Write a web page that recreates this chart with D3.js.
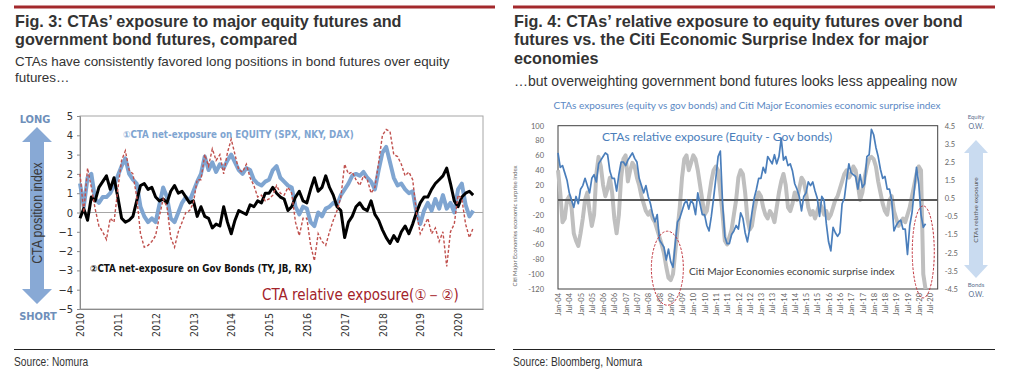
<!DOCTYPE html>
<html>
<head>
<meta charset="utf-8">
<script src="https://cdn.jsdelivr.net/npm/d3@7"></script>
<style>
  body { margin: 0; background: #fff; }
  svg { display: block; }
</style>
</head>
<body>
<svg id="chart" width="1011" height="378"></svg>
<script>
// ---------- Fig. 3 data (step 0.1 year from 2010.0) ----------
const leftStart = 2010, leftStep = 0.1;
const leftYears = [2010, 2011, 2012, 2013, 2014, 2015, 2016, 2017, 2018, 2019, 2020];
const leftYTicks = [5, 4, 3, 2, 1, 0, -1, -2, -3, -4, -5];
// (1) CTA net exposure on equity
const equityExposure = [
  1.5, 0.3, 1.8, 2.0, 0.7, 0.5, 0.8, 0.8, 1.0, 1.4,
  1.9, 2.4, 2.8, 2.0, 1.7, 1.5, 0.3, -0.2, -0.5, -0.3,
  -0.5, 0.4, 1.3, 0.8, -0.3, -0.5, 0.0, 0.5, 0.8, 0.6,
  1.1, 1.6, 2.0, 2.9, 2.2, 2.6, 2.1, 2.5, 2.3, 2.7,
  3.0, 2.6, 2.2, 2.0, 2.3, 2.2, 1.7, 1.5, 1.4, 1.6,
  1.7, 2.2, 2.4, 1.8, 1.6, 1.4, 1.3, 0.3, -0.1, 0.3,
  0.2, -0.5, -0.7, 0.0, -0.2, 0.2, 0.3, 0.5, 0.4, 0.9,
  1.2, 1.5, 1.9, 2.0, 1.9, 2.1, 1.8, 1.6, 1.2, 2.2,
  3.1, 3.4, 2.6, 1.8, 1.4, 1.5, 1.2, 1.0, 1.1, 0.0,
  -0.6, 0.1, 0.5, 0.1, 0.7, 0.2, 0.9, 0.2, 0.5, 0.0,
  1.2, 1.5, 0.4, -0.2, 0.1
];
// (2) CTA net exposure on government bonds
const bondExposure = [
  -0.3, 0.2, -0.4, 0.8, 0.6, 1.3, 1.6, 1.9, 1.2, 1.8,
  0.8, -0.3, -0.5, -0.4, -0.2, 0.6, 1.4, 1.5, 1.2, 1.3,
  0.8, 0.6, 0.7, 0.5, 1.1, 1.4, 1.0, 1.1, 0.8, 0.5,
  0.6, -0.2, 0.3, -0.2, -0.3, -0.8, -0.6, -0.7, 0.3, -0.5,
  -1.1, -0.4, 0.1, 0.0, -0.1, 0.4, 0.3, 0.6, 0.5, 1.0,
  1.0, 1.3, 1.0, 0.8, 0.7, 0.1, 0.3, 0.8, 1.1, 0.6,
  0.5, 1.2, 1.8, 1.1, 1.3, 1.9, 1.3, 0.9, 0.3, 0.1,
  -1.3, -0.5, -0.2, 0.3, 0.5, 0.2, 0.1, 0.6, -0.1, -0.4,
  -0.9, -1.3, -1.6, -1.2, -1.5, -1.0, -0.7, -1.1, -0.6, 0.0,
  0.5, 0.8, 0.8, 1.2, 1.5, 1.7, 1.9, 2.3, 1.5, 0.6,
  0.3, 0.8, 1.0, 1.1, 0.9
];
// CTA relative exposure (1) - (2)
const relativeExposure = [
  2.0, 0.0, 2.3, 1.3, 0.2, -0.7, -1.0, -1.4, -0.3, -0.5,
  1.2, 2.7, 3.2, 2.2, 2.0, 0.8, -1.1, -1.8, -1.7, -1.5,
  -1.2, -0.2, 0.7, 0.3, -1.3, -1.8, -1.0, -0.5, 0.0, 0.1,
  0.5, 1.7, 1.7, 3.0, 2.4, 3.3, 2.7, 3.0, 2.0, 3.1,
  3.8, 3.0, 2.2, 2.1, 2.5, 1.8, 1.4, 0.8, 0.9, 0.6,
  0.7, 0.9, 1.4, 1.0, 0.9, 1.3, 1.0, -0.5, -1.2, -0.3,
  -0.3, -1.7, -2.5, -1.1, -1.5, -1.7, -1.0, -0.4, 0.1, 0.8,
  2.5, 2.0, 2.1, 1.7, 1.4, 1.9, 1.7, 1.0, 1.3, 2.6,
  4.0, 4.3, 4.2, 3.0, 2.9, 2.5, 1.9, 2.1, 1.7, 0.0,
  -1.1, -0.7, -0.3, -1.1, -0.8, -1.5, -1.0, -2.8, -1.0, -0.6,
  0.9, 0.7, -0.6, -1.3, -0.8
];

// ---------- Fig. 4 data (step 0.1 year from 2004.0) ----------
const rightStart = 2004, rightStep = 0.1;
const rightXLabels = [
  "Jan-04", "Jul-04", "Jan-05", "Jul-05", "Jan-06", "Jul-06", "Jan-07", "Jul-07",
  "Jan-08", "Jul-08", "Jan-09", "Jul-09", "Jan-10", "Jul-10", "Jan-11", "Jul-11",
  "Jan-12", "Jul-12", "Jan-13", "Jul-13", "Jan-14", "Jul-14", "Jan-15", "Jul-15",
  "Jan-16", "Jul-16", "Jan-17", "Jul-17", "Jan-18", "Jul-18", "Jan-19", "Jul-19",
  "Jan-20", "Jul-20"
];
const rightLeftTicks = [100, 80, 60, 40, 20, 0, -20, -40, -60, -80, -100, -120];
const rightRightTicks = [4.5, 3.5, 2.5, 1.5, 0.5, -0.5, -1.5, -2.5, -3.5, -4.5];
// Citi Major Economies economic surprise index (left axis)
const citiSurprise = [
  40, 10, -30, -25, 0, 5, -10, -45, -55, -62,
  -45, -25, 0, 10, -15, -35, -20, 35, 58, 45,
  20, 5, 15, 30, 10, -25, -45, -20, 30, 55,
  60, 25, 40, 50, 45, 30, 20, 5, -5, -15,
  -20, -15, -25, -30, -40, -50, -60, -72, -90, -105,
  -108, -100, -70, -40, -10, 30, 55, 60, 40, 50,
  60, 55, 40, 20, 0, -20, -15, 5, 25, 40,
  45, 40, 10, -20, -55, -60, -50, -40, -20, 0,
  30, 40, 35, 10, -25, -40, -35, -15, 0, 10,
  5, -10, -20, -25, -15, -20, -30, -10, 10, 25,
  35, 20, -10, -15, -5, 10, 0, 15, 30, 25,
  10, -10, -20, -15, -25, -15, -5, -10, -20, -15,
  -25, -20, -10, 0, 5, 15, 25, 35, 40, 30,
  35, 45, 40, 20, 0, 10, 30, 45, 55, 58,
  55, 45, 25, 10, -5, -15, -20, 0, 5, -15,
  -25, -35, -30, -25, -30, -20, -10, 5, 20, 35,
  45, 40, -100, -120
];
// CTAs relative exposure, equity - gov bonds (right axis)
const ctaRelative = [
  3.0, 2.2, 2.3, 1.9, 1.5, 0.8, 0.4, 0.0, 0.6, 0.2,
  1.0, 1.2, 1.6, 1.2, 0.8, 1.6, 1.8, 1.4, 2.4, 2.6,
  2.8, 3.0, 2.9, 2.0, 1.6, 1.6, 0.9, 1.8, 2.5, 2.5,
  2.3, 2.6, 2.8, 3.0, 2.7, 2.5, 1.6, 1.2, 0.8, 1.2,
  0.6, 0.2, -0.4, -0.8, -0.4, -1.8, -2.0, -2.2, -2.9, -2.3,
  -3.0, -3.3, -2.0, -0.8, -0.6, -0.2, 0.2, 0.4, -0.1, 0.4,
  0.2, -0.4, 0.8, 0.2, -0.4, -0.4, -1.0, -1.3, -0.5, 0.5,
  1.6, 2.8, 3.1, 0.2, -1.6, -2.0, -2.0, -1.5, -1.3, -1.0,
  -1.2, -0.3, -0.6, -1.4, -1.9, -1.2, -0.3, 0.5, 1.0, 1.6,
  1.6, 2.2, 1.9, 2.8, 2.6, 2.4, 2.9, 2.4, 2.8, 3.8,
  2.6, 2.8, 2.3, 2.4, 2.0, 1.3, 1.0, 0.6, -0.2, 0.6,
  0.8, 1.4, 1.2, 1.4, 0.9, 0.5, -0.5, 0.6, 0.4, -0.9,
  -1.9, -2.4, -1.1, -1.4, -1.6, -1.4, 0.2, 0.5, 1.5, 2.4,
  1.9, 1.8, 1.7, 1.0, 1.8, 1.1, 1.3, 2.8, 2.9, 4.3,
  4.0, 3.3, 2.8, 2.1, 1.6, 1.7, 1.0, 1.0, 0.4, -1.3,
  -1.0, -0.8, -0.7, -1.2, -1.2, -2.6, -1.0, -0.3, 0.9, 2.2,
  1.3, -0.4, -1.1, -0.9
];
// dashed ellipses (year, surprise index value, radii in px)
const highlights = [
  { year: 2008.85, value: -92, rx: 16, ry: 37 },
  { year: 2020.2, value: -70, rx: 11, ry: 46 }
];

const svg = d3.select("#chart");
const darkText = "#333";

// ---------- headers ----------
function header(x0, x1, titleLines, subLines, subY, subSize) {
  svg.append("line")
    .attr("x1", x0).attr("x2", x1).attr("y1", 7).attr("y2", 7)
    .attr("stroke", "#a3292c").attr("stroke-width", 3);
  titleLines.forEach((t, i) => {
    svg.append("text").attr("x", x0 + 1).attr("y", 27 + i * 18.3)
      .attr("font-family", "Liberation Sans, Arial, sans-serif")
      .attr("font-weight", "bold").attr("font-size", 16.2)
      .attr("fill", darkText).text(t);
  });
  subLines.forEach((t, i) => {
    svg.append("text").attr("x", x0 + 1).attr("y", subY + i * 16)
      .attr("font-family", "Liberation Sans, Arial, sans-serif")
      .attr("font-size", subSize).attr("fill", darkText).text(t);
  });
  svg.append("line")
    .attr("x1", x0).attr("x2", x1).attr("y1", 349.5).attr("y2", 349.5)
    .attr("stroke", "#222").attr("stroke-width", 1);
}
header(14, 495,
  ["Fig. 3: CTAs\u2019 exposure to major equity futures and", "government bond futures, compared"],
  ["CTAs have consistently favored long positions in bond futures over equity", "futures\u2026"], 66, 13.4);
header(513, 995,
  ["Fig. 4: CTAs\u2019 relative exposure to equity futures over bond",
   "futures vs. the Citi Economic Surprise Index for major", "economies"],
  ["\u2026but overweighting government bond futures looks less appealing now"], 86, 14);

// narrow source lines (horizontal squeeze stands in for Arial Narrow)
svg.append("text").attr("transform", "translate(14,366) scale(0.85,1)")
  .attr("font-family", "Liberation Sans, Arial, sans-serif")
  .attr("font-size", 12).attr("fill", darkText).text("Source: Nomura");
svg.append("text").attr("transform", "translate(513,366) scale(0.85,1)")
  .attr("font-family", "Liberation Sans, Arial, sans-serif")
  .attr("font-size", 12).attr("fill", darkText).text("Source: Bloomberg, Nomura");

// ---------- Fig. 3 chart ----------
const lx = d3.scaleLinear().domain([2010, 2020.66]).range([80, 483]);
const ly = d3.scaleLinear().domain([-5, 5]).range([309, 116]);
const tahoma = "DejaVu Sans Condensed, Tahoma, sans-serif";

svg.append("rect")
  .attr("x", lx.range()[0]).attr("y", ly.range()[1])
  .attr("width", lx.range()[1] - lx.range()[0]).attr("height", ly.range()[0] - ly.range()[1])
  .attr("fill", "none").attr("stroke", "#a6a6a6");

svg.append("line")
  .attr("x1", lx.range()[0]).attr("x2", lx.range()[1])
  .attr("y1", ly(0)).attr("y2", ly(0))
  .attr("stroke", "#a6a6a6").attr("stroke-width", 1);

const lAxisY = svg.append("g")
  .attr("transform", `translate(${lx.range()[0]},0)`)
  .call(d3.axisLeft(ly).tickValues(leftYTicks).tickSize(3).tickPadding(4).tickFormat(d3.format("d")));
lAxisY.select(".domain").attr("stroke", "#8c8c8c");
lAxisY.selectAll(".tick line").attr("stroke", "#8c8c8c");
lAxisY.selectAll("text").attr("font-family", tahoma).attr("font-size", 11).attr("fill", darkText);

const lAxisX = svg.append("g")
  .attr("transform", `translate(0,${ly.range()[0]})`)
  .call(d3.axisBottom(lx).tickValues(leftYears).tickSize(0).tickFormat(d3.format("d")));
lAxisX.select(".domain").attr("stroke", "#8c8c8c");
lAxisX.selectAll("text")
  .attr("transform", "rotate(-90)")
  .attr("x", -4).attr("y", 0).attr("dy", "0.35em")
  .style("text-anchor", "end")
  .attr("font-family", tahoma).attr("font-size", 10.5).attr("fill", darkText);

const lLine = d3.line()
  .x((d, i) => lx(leftStart + i * leftStep))
  .y(d => ly(d));

svg.append("path").datum(equityExposure)
  .attr("d", lLine).attr("fill", "none")
  .attr("stroke", "#7fa5d1").attr("stroke-width", 4).attr("stroke-linejoin", "round");
svg.append("path").datum(bondExposure)
  .attr("d", lLine).attr("fill", "none")
  .attr("stroke", "#000").attr("stroke-width", 3).attr("stroke-linejoin", "round");
svg.append("path").datum(relativeExposure)
  .attr("d", lLine).attr("fill", "none")
  .attr("stroke", "#c0504d").attr("stroke-width", 1.4).attr("stroke-dasharray", "3,2");

svg.append("text").attr("x", 123).attr("y", 138)
  .attr("font-family", tahoma).attr("font-weight", "bold").attr("font-size", 9.7)
  .attr("fill", "#7fa5d1").text("\u2460CTA net-exposure on EQUITY (SPX, NKY, DAX)");
svg.append("text").attr("x", 90).attr("y", 272)
  .attr("font-family", tahoma).attr("font-weight", "bold").attr("font-size", 9.7)
  .attr("fill", "#111").text("\u2461CTA net-exposure on Gov Bonds (TY, JB, RX)");
svg.append("text").attr("x", 262).attr("y", 300)
  .attr("font-family", tahoma).attr("font-size", 15)
  .attr("fill", "#a3232a").text("CTA relative exposure(\u2460\uFF0D\u2461)");

// long / short arrow
const arrowL = d3.path();
arrowL.moveTo(37, 127); arrowL.lineTo(52, 142); arrowL.lineTo(44, 142); arrowL.lineTo(44, 289);
arrowL.lineTo(52, 289); arrowL.lineTo(37, 304); arrowL.lineTo(22, 289); arrowL.lineTo(30, 289);
arrowL.lineTo(30, 142); arrowL.lineTo(22, 142); arrowL.closePath();
svg.append("path").attr("d", arrowL.toString()).attr("fill", "#88a9d5");
svg.append("text").attr("x", 35).attr("y", 123).attr("text-anchor", "middle")
  .attr("font-family", tahoma).attr("font-weight", "bold").attr("font-size", 11)
  .attr("fill", "#6f8fba").text("LONG");
svg.append("text").attr("x", 38).attr("y", 320).attr("text-anchor", "middle")
  .attr("font-family", tahoma).attr("font-weight", "bold").attr("font-size", 11)
  .attr("fill", "#6f8fba").text("SHORT");
svg.append("text").attr("transform", "translate(42,213) rotate(-90) scale(0.82,1)")
  .attr("text-anchor", "middle")
  .attr("font-family", "Liberation Sans, Arial, sans-serif").attr("font-size", 15)
  .attr("fill", "#3a3a3a").text("CTA position index");

// ---------- Fig. 4 chart ----------
const rx = d3.scaleLinear().domain([2004, 2020.84]).range([558, 937.7]);
const ryL = d3.scaleLinear().domain([-120, 100]).range([289, 125.7]);
const ryR = d3.scaleLinear().domain([-4.5, 4.5]).range([289, 125.7]);
const calibri = "Lato, Carlito, Calibri, sans-serif";

svg.append("text").attr("x", 747).attr("y", 109).attr("text-anchor", "middle")
  .attr("font-family", calibri).attr("font-size", 10).attr("fill", "#5a88c4")
  .text("CTAs exposures (equity vs gov bonds) and Citi Major Economies economic surprise index");

svg.append("rect")
  .attr("x", rx.range()[0]).attr("y", ryL.range()[1])
  .attr("width", rx.range()[1] - rx.range()[0]).attr("height", ryL.range()[0] - ryL.range()[1])
  .attr("fill", "none").attr("stroke", "#404040").attr("stroke-width", 1);

const rAxisL = svg.append("g")
  .attr("transform", `translate(${rx.range()[0]},0)`)
  .call(d3.axisLeft(ryL).tickValues(rightLeftTicks).tickSize(0).tickPadding(14).tickFormat(d => d));
rAxisL.select(".domain").remove();
rAxisL.selectAll("text").attr("font-family", calibri).attr("font-size", 7.5).attr("fill", "#666");

const rAxisR = svg.append("g")
  .attr("transform", `translate(${rx.range()[1]},0)`)
  .call(d3.axisRight(ryR).tickValues(rightRightTicks).tickSize(0).tickPadding(7).tickFormat(d => d));
rAxisR.select(".domain").remove();
rAxisR.selectAll("text").attr("font-family", calibri).attr("font-size", 7.5).attr("fill", "#666");

const labelYear = s => 2000 + +s.slice(4) + (s.startsWith("Jul") ? 0.5 : 0);
const rAxisX = svg.append("g")
  .attr("transform", `translate(0,${ryL.range()[0]})`)
  .call(d3.axisBottom(rx).tickValues(rightXLabels.map(labelYear)).tickSize(0)
    .tickFormat((d, i) => rightXLabels[i]));
rAxisX.select(".domain").remove();
rAxisX.selectAll("text")
  .attr("transform", "rotate(-90)")
  .attr("x", -4).attr("y", 0).attr("dy", "0.35em")
  .style("text-anchor", "end")
  .attr("font-family", calibri).attr("font-size", 7.5).attr("fill", "#666");

svg.append("text").attr("transform", "translate(517,226) rotate(-90)")
  .attr("text-anchor", "middle")
  .attr("font-family", calibri).attr("font-size", 6).attr("fill", "#666")
  .text("Citi Major Economies economic surprise index");

const rLineL = d3.line().x((d, i) => rx(rightStart + i * rightStep)).y(d => ryL(d));
const rLineR = d3.line().x((d, i) => rx(rightStart + i * rightStep)).y(d => ryR(d));

svg.append("path").datum(citiSurprise)
  .attr("d", rLineL).attr("fill", "none")
  .attr("stroke", "#bfbfbf").attr("stroke-width", 4).attr("stroke-linejoin", "round");

svg.append("line")
  .attr("x1", rx.range()[0]).attr("x2", rx.range()[1])
  .attr("y1", ryL(0)).attr("y2", ryL(0))
  .attr("stroke", "#595959").attr("stroke-width", 2);

svg.append("path").datum(ctaRelative)
  .attr("d", rLineR).attr("fill", "none")
  .attr("stroke", "#4a7ebb").attr("stroke-width", 1.7).attr("stroke-linejoin", "round");

svg.selectAll(".hl").data(highlights).enter().append("ellipse")
  .attr("class", "hl")
  .attr("cx", d => rx(d.year)).attr("cy", d => ryL(d.value))
  .attr("rx", d => d.rx).attr("ry", d => d.ry)
  .attr("fill", "none").attr("stroke", "#c0303a").attr("stroke-width", 1)
  .attr("stroke-dasharray", "2.5,1.5");

svg.append("text").attr("x", 602).attr("y", 141)
  .attr("font-family", calibri).attr("font-size", 12).attr("fill", "#4a7ebb")
  .text("CTAs relative exposure (Equity - Gov bonds)");
svg.append("text").attr("x", 689).attr("y", 275)
  .attr("font-family", calibri).attr("font-size", 10.2).attr("fill", "#404040")
  .text("Citi Major Economies economic surprise index");

// equity / bonds O.W. arrow
const arrowR = d3.path();
arrowR.moveTo(976, 140); arrowR.lineTo(988, 153); arrowR.lineTo(983, 153); arrowR.lineTo(983, 265);
arrowR.lineTo(988, 265); arrowR.lineTo(976, 278); arrowR.lineTo(964, 265); arrowR.lineTo(969, 265);
arrowR.lineTo(969, 153); arrowR.lineTo(964, 153); arrowR.closePath();
svg.append("path").attr("d", arrowR.toString()).attr("fill", "#c9dbf0");
svg.append("text").attr("transform", "translate(978,210) rotate(-90)")
  .attr("text-anchor", "middle")
  .attr("font-family", calibri).attr("font-size", 6.5).attr("fill", "#555")
  .text("CTAs relative exposure");
[["Equity", 119, 6], ["O.W.", 129, 7], ["Bonds", 287, 6], ["O.W.", 297, 7]].forEach(([t, y, fs]) => {
  svg.append("text").attr("x", 976).attr("y", y).attr("text-anchor", "middle")
    .attr("font-family", calibri).attr("font-size", fs).attr("fill", "#5a6f8f").text(t);
});
</script>
</body>
</html>
